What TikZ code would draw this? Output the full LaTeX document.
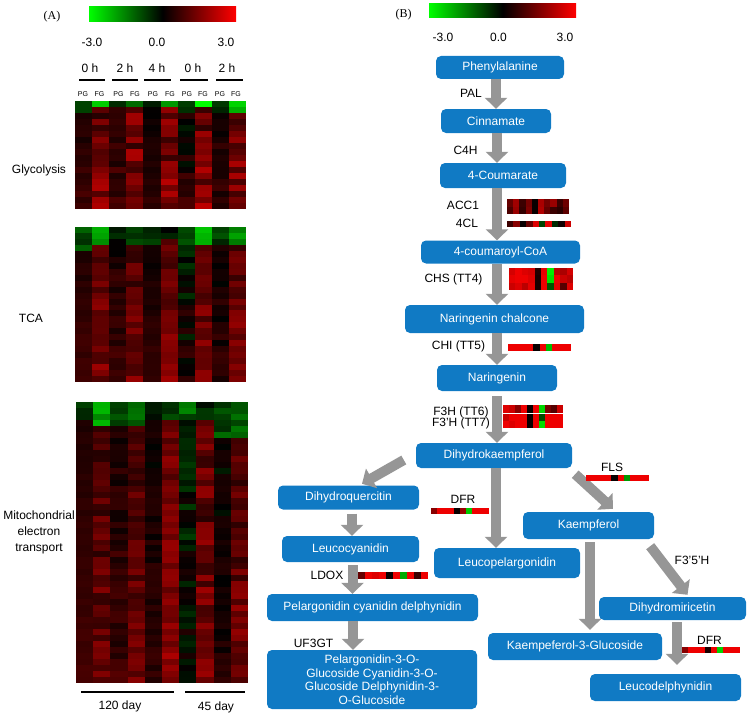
\documentclass[tikz,border=0pt]{standalone}
\usepackage{fontspec}
\setmainfont{Liberation Sans}
\newfontfamily\serifA{Liberation Serif}
\usetikzlibrary{arrows.meta}
\definecolor{boxblue}{RGB}{16,122,196}
\definecolor{arrowgray}{RGB}{150,150,150}
\newcommand\hmfill[5]{%
  \pgfmathtruncatemacro\hmR{max(0,min(255,(#5)*85))}%
  \pgfmathtruncatemacro\hmG{max(0,min(255,-(#5)*85))}%
  \definecolor{hcol}{RGB}{\hmR,\hmG,0}%
  \fill[hcol] (#1,#2) rectangle ++(#3+0.3,#4+0.3);%
}
\newcommand\hmgrid[6]{% x0 y0 width height nrows colspecs
  \pgfmathsetmacro\hmCW{#3/10}%
  \pgfmathsetmacro\hmRH{#4/#5}%
  \pgfmathtruncatemacro\hmNR{#5-1}%
  \foreach \hmc/\hmm/\hms/\hmt/\hmk in {#6}{%
    \foreach \hmr in {0,...,\hmNR}{%
      \pgfmathsetmacro\hmvv{(\hmr<\hmk)?(\hmt+0.4*rand):(0.85*(\hmm+\hms*rand)+0.45*\hmr/\hmNR)}%
      \hmfill{#1+\hmc*\hmCW}{#2+\hmr*\hmRH}{\hmCW}{\hmRH}{\hmvv}%
    }%
  }%
}
\newcommand\hmstrip[5]{% x y w h {values}
  \foreach \hmv [count=\hmi from 0] in {#5}{%
    \hmfill{#1+\hmi*#3/10}{#2}{#3/10}{#4}{\hmv}%
  }%
}
\begin{document}
\begin{tikzpicture}[x=1pt,y=-1pt,
  box/.style={fill=boxblue, rounded corners=5pt, text=white, font=\fontsize{12}{13.5}\selectfont, inner sep=0pt, align=center},
  lab/.style={font=\fontsize{12}{13}\selectfont, inner sep=0pt},
  tiny/.style={font=\fontsize{7}{7}\selectfont, inner sep=0pt},
  panel/.style={font=\serifA\fontsize{12}{12}\selectfont, inner sep=0pt},
  garrow/.style={draw=arrowgray, line width=10pt, -{Triangle[width=22pt,length=11pt]}},
  cbar/.style={left color=green, right color=red, middle color=black},
  rulel/.style={line width=1.3pt}]
\useasboundingbox (0,0) rectangle (750,717);
\pgfmathsetseed{4242}

%% ---------------- Panel A ----------------
\node[panel] (pA) at (52,17) {(A)};
\shade[cbar] (89,7) rectangle (236,22);
\node[lab] (a-m3) at (92,42) {-3.0};
\node[lab] (a-0) at (157,42) {0.0};
\node[lab] (a-p3) at (226,42) {3.0};

\node[lab] (t1) at (90,68) {0 h};
\node[lab] (t2) at (125,68) {2 h};
\node[lab] (t3) at (157,68) {4 h};
\node[lab] (t4) at (193,68) {0 h};
\node[lab] (t5) at (227,68) {2 h};
\draw[rulel] (79,80) -- (105,80);
\draw[rulel] (112,80) -- (138,80);
\draw[rulel] (144,80) -- (171,80);
\draw[rulel] (180,80) -- (208,80);
\draw[rulel] (216,80) -- (243,80);

\foreach \gx/\gl [count=\gi] in {83/PG,99.5/FG,118.5/PG,135/FG,153/PG,170/FG,187/PG,203/FG,220/PG,236/FG}{
  \node[tiny] (g\gi) at (\gx,94.5) {\gl};
}

% Glycolysis heatmap
\hmgrid{75}{101}{171}{108}{18}{0/0.35/0.25/-0.9/2, 1/1.2/0.8/-2.5/1, 2/0.4/0.4/-0.5/1, 3/1.3/0.9/-1.5/1, 4/0.1/0.15/-0.3/1, 5/1.3/0.9/-1.5/1, 6/0.0/0.7/-0.6/1, 7/1.3/0.8/-2.8/1, 8/0.2/0.4/-0.8/2, 9/1.3/0.9/-2.2/2}
% TCA heatmap
\hmgrid{75}{227}{171}{155}{26}{0/0.35/0.15/-0.8/4, 1/1.1/0.6/-2.0/3, 2/0.3/0.4/-0.3/3, 3/1.0/0.6/-0.6/3, 4/0.15/0.2/-0.4/3, 5/1.2/0.5/-0.2/2, 6/-0.3/0.7/-0.8/3, 7/1.1/0.6/-2.0/3, 8/0.05/0.4/-0.8/3, 9/1.1/0.6/-1.6/3}
% Mitochondrial heatmap
\hmgrid{76}{402}{172}{281}{47}{0/0.4/0.1/-0.6/3, 1/0.9/0.6/-1.8/4, 2/0.3/0.4/-0.8/4, 3/0.9/0.5/-1.2/4, 4/0.1/0.3/-0.3/3, 5/1.4/0.5/-0.8/3, 6/-0.5/0.6/-1.5/2, 7/1.1/0.8/-0.5/3, 8/-0.15/0.4/-0.9/6, 9/1.0/0.7/-1.0/6}

\node[lab] (glyc) at (39,170) {Glycolysis};
\node[lab] (tca) at (31,318) {TCA};
\node[lab, align=center, font=\fontsize{12}{16}\selectfont] (mito) at (39,532) {Mitochondrial\\electron\\transport};

\draw[rulel] (81,692) -- (174,692);
\draw[rulel] (185,692) -- (245,692);
\node[lab] (d120) at (120,706) {120 day};
\node[lab] (d45) at (216,707) {45 day};

%% ---------------- Panel B ----------------
\node[panel] (pB) at (403.5,15) {(B)};
\shade[cbar] (429,4) rectangle (576,18);
\node[lab] (b-m3) at (443,37.5) {-3.0};
\node[lab] (b-0) at (498.5,37.5) {0.0};
\node[lab] (b-p3) at (565,37.5) {3.0};

% boxes
\node[box, minimum width=128pt, minimum height=23pt] (phe) at (500,67.5) {Phenylalanine};
\node[box, minimum width=110pt, minimum height=24pt] (cin) at (496,121) {Cinnamate};
\node[box, minimum width=126pt, minimum height=25pt] (cou) at (503,175.5) {4-Coumarate};
\node[box, minimum width=159pt, minimum height=23pt] (coa) at (500.5,252) {4-coumaroyl-CoA};
\node[box, minimum width=179pt, minimum height=28pt] (nch) at (494.5,319) {Naringenin chalcone};
\node[box, minimum width=120pt, minimum height=26pt] (nar) at (497,378) {Naringenin};
\node[box, minimum width=156pt, minimum height=25pt] (dhk) at (494,455.5) {Dihydrokaempferol};
\node[box, minimum width=141pt, minimum height=24pt] (dhq) at (348.5,497.5) {Dihydroquercitin};
\node[box, minimum width=137pt, minimum height=26pt] (leu) at (350.5,549) {Leucocyanidin};
\node[box, minimum width=146pt, minimum height=30pt] (lpg) at (507,563) {Leucopelargonidin};
\node[box, minimum width=131pt, minimum height=27pt] (kae) at (588.5,525.5) {Kaempferol};
\node[box, minimum width=211pt, minimum height=27pt] (pcd) at (372.5,607.5) {Pelargonidin cyanidin delphynidin};
\node[box, minimum width=210pt, minimum height=59pt] (big) at (372,679.5) {Pelargonidin-3-O-\\Glucoside Cyanidin-3-O-\\Glucoside Delphynidin-3-\\O-Glucoside};
\node[box, minimum width=174pt, minimum height=27pt] (k3g) at (575,646.5) {Kaempeferol-3-Glucoside};
\node[box, minimum width=147pt, minimum height=23pt] (dhm) at (672.5,608.5) {Dihydromiricetin};
\node[box, minimum width=151pt, minimum height=27pt] (ldp) at (665.5,687.5) {Leucodelphynidin};

% arrows
\draw[garrow] (cin.north |- phe.south) -- (cin.north);
\draw[garrow] ([xshift=1pt]cin.south) -- ([xshift=1pt]cin.south |- cou.north);
\draw[garrow] ([xshift=-3.5pt]coa.north |- cou.south) -- ([xshift=-3.5pt]coa.north);
\draw[garrow] ([xshift=2.5pt]nch.north |- coa.south) -- ([xshift=2.5pt]nch.north);
\draw[garrow] (nar.north |- nch.south) -- (nar.north);
\draw[garrow, shorten <=5pt] ([xshift=3pt]dhk.north |- nar.south) -- ([xshift=3pt]dhk.north);
\draw[garrow] ([xshift=-12pt,yshift=-4.5pt]dhk.west) -- ([xshift=13.5pt,yshift=1.5pt]dhq.north);
\draw[garrow] ([xshift=2pt]dhk.south) -- ([xshift=2pt]dhk.south |- lpg.north);
\draw[garrow] ([xshift=3pt,yshift=-6pt]dhk.south east) -- ([xshift=24.5pt,yshift=3pt]kae.north);
\draw[garrow, shorten <=4pt] ([xshift=3.5pt]dhq.south) -- ([xshift=3.5pt]dhq.south |- leu.north);
\draw[garrow, shorten <=3pt] ([xshift=2pt]leu.south) -- ([xshift=2pt]leu.south |- pcd.north);
\draw[garrow] ([xshift=-19.5pt]pcd.south) -- ([xshift=-19.5pt]pcd.south |- big.north);
\draw[garrow, shorten <=3pt, shorten >=3pt] ([xshift=1.5pt]kae.south) -- ([xshift=1.5pt]kae.south |- k3g.north);
\draw[garrow] ([xshift=-4pt,yshift=-7pt]kae.south east) -- ([xshift=15pt,yshift=2pt]dhm.north);
\draw[garrow, shorten <=2pt, shorten >=9pt] ([xshift=4.5pt]dhm.south) -- ([xshift=4.5pt]dhm.south |- ldp.north);

% enzyme labels
\node[lab] (pal) at (471,93) {PAL};
\node[lab] (c4h) at (465.5,150) {C4H};
\node[lab] (acc1) at (463,205) {ACC1};
\node[lab] (fcl) at (467,223) {4CL};
\node[lab] (chs) at (453.5,279) {CHS (TT4)};
\node[lab] (chi) at (458.5,346) {CHI (TT5)};
\node[lab] (f3h) at (461,412) {F3H (TT6)};
\node[lab] (f3ph) at (461,423) {F3'H (TT7)};
\node[lab] (dfr1) at (463,499) {DFR};
\node[lab] (ldox) at (327,575) {LDOX};
\node[lab] (fls) at (612,467) {FLS};
\node[lab] (f35h) at (692,560) {F3'5'H};
\node[lab] (dfr2) at (709.5,640) {DFR};
\node[lab] (uf3gt) at (313.5,643) {UF3GT};

% expression strips
\hmstrip{507}{199}{62}{7.5}{1.2,1.9,0.7,1.4,0.1,2.0,1.4,1.8,0.7,1.3}
\hmstrip{507}{206.5}{62}{7.5}{0.9,1.8,0.6,1.5,0.1,2.1,1.2,0.7,0.5,1.1}
\hmstrip{507}{221}{64}{6}{0.7,1.6,0.1,1.2,2.6,-0.8,2.7,-0.5,0.2,2.4}
\hmstrip{509}{268}{64}{7.3}{2.5,2.8,2.6,2.5,0.4,2.7,-2.8,2.2,2.0,2.5}
\hmstrip{509}{275.3}{64}{7.3}{2.7,2.8,2.8,2.6,0.3,2.8,-2.6,2.8,2.4,2.2}
\hmstrip{509}{282.6}{64}{7.4}{2.4,2.6,2.2,2.7,0.3,2.8,-1.0,2.7,1.0,2.6}
\hmstrip{508}{344}{63}{7}{2.8,2.8,2.8,2.8,0.1,2.8,-2.2,2.8,2.8,2.8}
\hmstrip{503}{405}{60}{8}{2.6,2.4,1.6,2.8,0.1,2.8,-2.5,1.4,1.0,2.4}
\hmstrip{503}{414}{60}{7}{2.4,2.8,2.8,2.8,0.1,2.8,-0.9,2.8,2.8,2.8}
\hmstrip{503}{421}{60}{7}{2.8,2.6,2.8,2.8,0.1,2.8,-2.6,2.8,2.8,2.8}
\hmstrip{431}{508}{58}{6}{1.6,2.8,2.8,2.8,0.1,1.8,-2.4,2.8,2.8,2.8}
\hmstrip{358}{572}{70}{6.5}{1.2,2.8,2.6,2.8,0.1,2.8,-2.0,2.8,0.7,2.8}
\hmstrip{586}{475}{63}{6}{2.8,2.8,2.8,2.8,0.1,2.8,-1.8,2.8,2.8,2.8}
\hmstrip{682}{647}{58}{6}{1.6,2.8,2.8,2.8,0.3,2.8,-2.5,2.8,2.8,2.8}
\end{tikzpicture}
\end{document}
